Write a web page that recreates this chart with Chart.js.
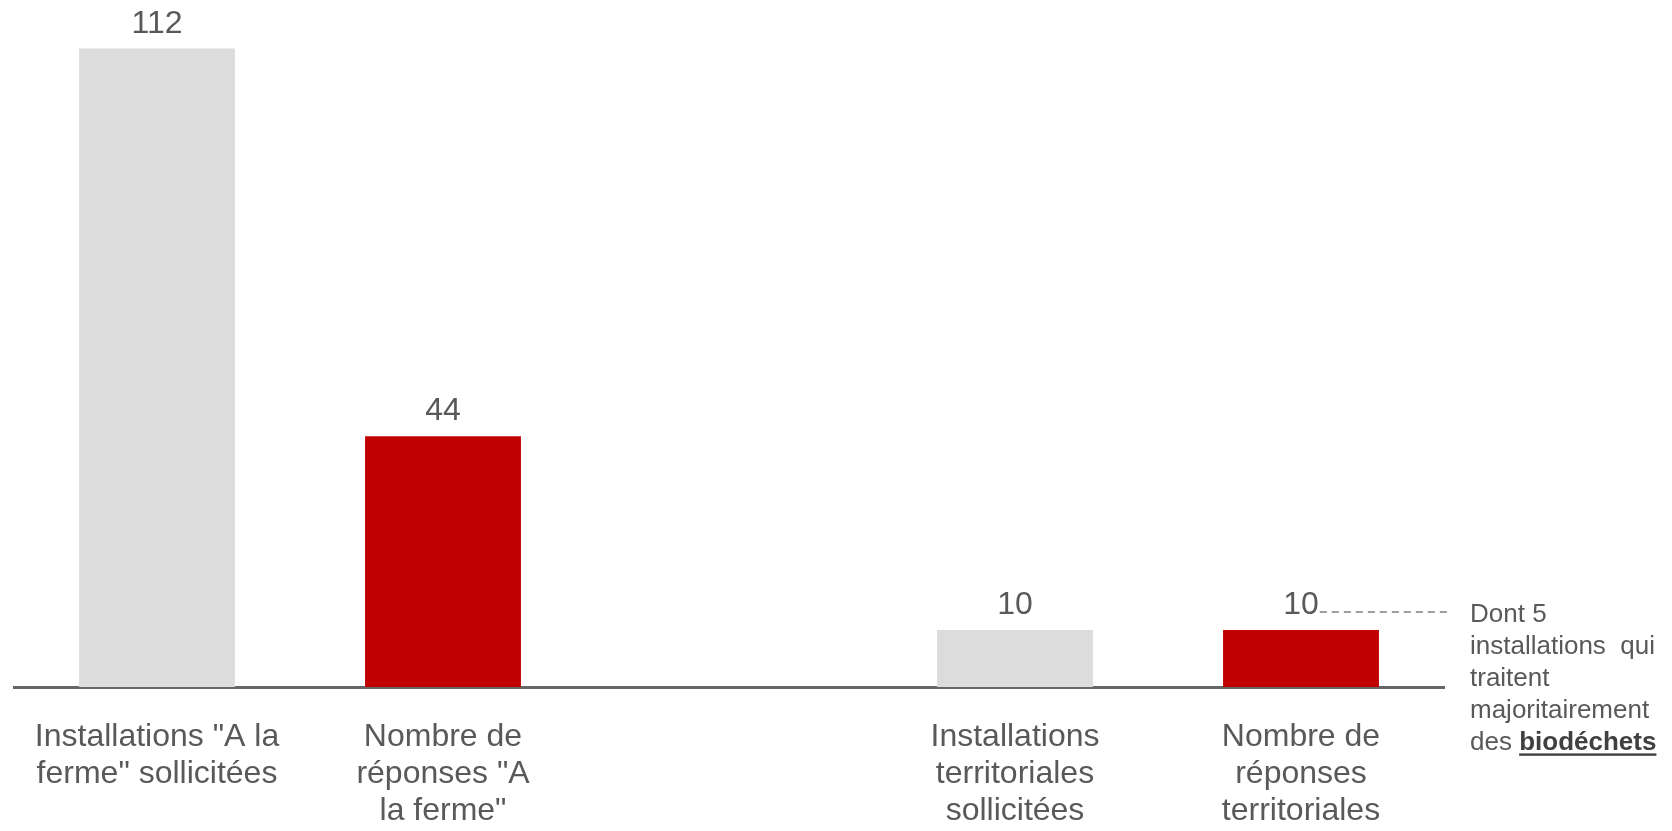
<!DOCTYPE html>
<html lang="fr">
<head>
<meta charset="utf-8">
<title>Installations sollicitées et réponses</title>
<script src="https://cdn.jsdelivr.net/npm/chart.js@4.4.1/dist/chart.umd.min.js"></script>
<style>
  html, body { margin: 0; padding: 0; background: #ffffff; }
  #wrap { position: relative; width: 1672px; height: 831px; }
  canvas { display: block; }
</style>
</head>
<body>
<div id="wrap"><canvas id="chart" width="1672" height="831"></canvas></div>
<script>
// Categories (multi-line labels); the empty slot separates the two groups
const categories = [
  ['Installations "A la', 'ferme" sollicitées'],
  ['Nombre de', 'réponses "A', 'la ferme"'],
  '',
  ['Installations', 'territoriales', 'sollicitées'],
  ['Nombre de', 'réponses', 'territoriales']
];
const values = [112, 44, null, 10, 10];
const barColors = ['#DCDCDC', '#C00000', '#DCDCDC', '#DCDCDC', '#C00000'];

// Side note attached to the last bar
const noteLines = ['Dont 5', 'installations  qui', 'traitent', 'majoritairement'];
const noteLastPrefix = 'des ';
const noteLastBold = 'biodéchets';
const noteBarIndex = 4;

const textColor = '#595959';
const fontFamily = '"Liberation Sans", Arial, sans-serif';

const valueLabels = {
  id: 'valueLabels',
  afterDatasetsDraw(chart) {
    const ctx = chart.ctx;
    const meta = chart.getDatasetMeta(0);
    ctx.save();
    ctx.font = '32px ' + fontFamily;
    ctx.fillStyle = textColor;
    ctx.textAlign = 'center';
    ctx.textBaseline = 'alphabetic';
    meta.data.forEach((bar, i) => {
      const v = values[i];
      if (v === null || v === undefined) return;
      ctx.fillText(String(v), bar.x, bar.y - 16);
    });
    ctx.restore();
  }
};

const sideNote = {
  id: 'sideNote',
  afterDraw(chart) {
    const ctx = chart.ctx;
    const area = chart.chartArea;
    const bar = chart.getDatasetMeta(0).data[noteBarIndex];
    ctx.save();
    // dashed leader from the value label to the note
    ctx.font = '32px ' + fontFamily;
    const half = ctx.measureText(String(values[noteBarIndex])).width / 2;
    const yLead = bar.y - 18;
    ctx.strokeStyle = '#7F7F7F';
    ctx.lineWidth = 1.5;
    ctx.setLineDash([7, 5]);
    ctx.beginPath();
    ctx.moveTo(bar.x + half + 1, yLead);
    ctx.lineTo(area.right + 3, yLead);
    ctx.stroke();
    ctx.setLineDash([]);

    // note text
    const x0 = area.right + 26;
    const y0 = bar.y - 8.5;
    const step = 32.1;
    ctx.fillStyle = textColor;
    ctx.textAlign = 'left';
    ctx.textBaseline = 'alphabetic';
    ctx.font = '26px ' + fontFamily;
    noteLines.forEach((t, i) => ctx.fillText(t, x0, y0 + i * step));
    const yLast = y0 + noteLines.length * step;
    ctx.fillText(noteLastPrefix, x0, yLast);
    const px = x0 + ctx.measureText(noteLastPrefix).width;
    ctx.font = 'bold 26px ' + fontFamily;
    ctx.fillStyle = '#404040';
    ctx.fillText(noteLastBold, px, yLast);
    const w = ctx.measureText(noteLastBold).width;
    ctx.fillRect(px, yLast + 3.5, w, 2.4);
    ctx.restore();
  }
};

new Chart(document.getElementById('chart'), {
  type: 'bar',
  data: {
    labels: categories,
    datasets: [{
      data: values,
      backgroundColor: barColors,
      borderWidth: 0,
      barPercentage: 0.545,
      categoryPercentage: 1
    }]
  },
  options: {
    responsive: false,
    animation: false,
    devicePixelRatio: 1,
    layout: { padding: { left: 14, right: 228, top: 3, bottom: 0 } },
    plugins: {
      legend: { display: false },
      tooltip: { enabled: false },
      title: { display: false }
    },
    scales: {
      x: {
        grid: { display: false, drawTicks: false },
        border: { display: true, color: '#666666', width: 3 },
        ticks: {
          color: textColor,
          font: { family: fontFamily, size: 32, lineHeight: 1.17 },
          padding: 31,
          maxRotation: 0,
          autoSkip: false
        },
        afterFit(scale) { scale.height = 144; }
      },
      y: {
        display: false,
        min: 0,
        max: 120
      }
    }
  },
  plugins: [valueLabels, sideNote]
});
</script>
</body>
</html>
